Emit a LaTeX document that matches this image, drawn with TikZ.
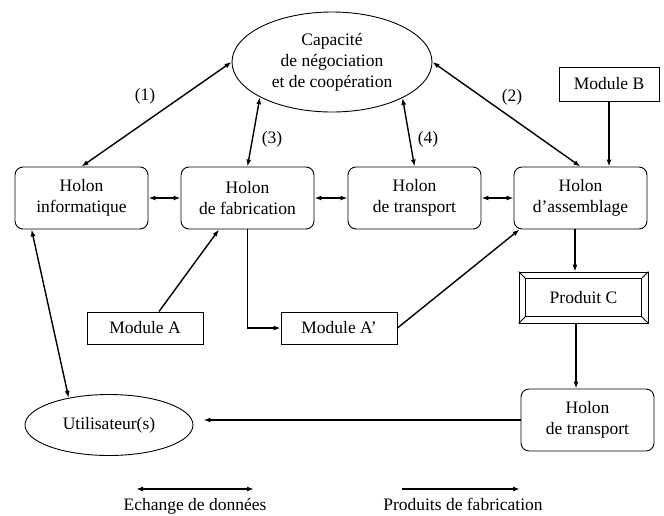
\documentclass[tikz,border=0pt]{standalone}
\usepackage{fontspec}
\setmainfont{Liberation Serif}
\usetikzlibrary{shapes.geometric,arrows.meta}

\tikzset{
  holon/.style={draw, rounded corners=8pt, minimum width=133pt, minimum height=62pt,
                inner sep=0pt, align=center, line width=0.9pt},
  module/.style={draw, minimum width=116pt, minimum height=32pt, inner sep=0pt, line width=0.9pt},
  oval/.style={draw, ellipse, inner sep=0pt, align=center, line width=0.9pt},
  flow/.style={-{Latex[length=7pt,width=5pt]}, line width=1.4pt},
  exch/.style={{Latex[length=7pt,width=5pt]}-{Latex[length=7pt,width=5pt]}, line width=1.4pt},
  lbl/.style={inner sep=0pt}
}

\begin{document}
\begin{tikzpicture}[x=1pt, y=-1pt, font=\fontsize{17.5}{21}\selectfont]
  \useasboundingbox (0,0) rectangle (664,515);

  % negotiation layer
  \node[oval, minimum width=200pt, minimum height=100pt] (capa) at (332,62)
    {Capacité\\de négociation\\et de coopération};

  % holons
  \node[holon] (hinfo)  at (81.5,198)  {Holon\\informatique};
  \node[holon] (hfab)   at (247.5,198) {Holon\\de fabrication};
  \node[holon] (htrans) at (414.5,198) {Holon\\de transport};
  \node[holon] (hass)   at (580.5,198) {Holon\\d’assemblage};
  \node[holon] (hbot)   at (587.5,420) {Holon\\de transport};

  % modules and products
  \node[draw, minimum width=100pt, minimum height=34pt, inner sep=0pt, line width=0.9pt]
    (modB) at (609,84) {Module B};
  \node[module] (modA)  at (145,328) {Module A};
  \node[module] (modAp) at (339,328) {Module A’};

  \node[draw, line width=0.8pt, minimum width=129pt, minimum height=51pt, inner sep=0pt]
    (pc) at (583.5,297.5) {Produit C};
  \draw[line width=0.8pt] ([shift={(7,7)}]pc.north west) rectangle ([shift={(-7,-7)}]pc.south east);
  \draw[line width=0.8pt] (pc.north west) -- ([shift={(7,7)}]pc.north west);
  \draw[line width=0.8pt] (pc.north east) -- ([shift={(-7,7)}]pc.north east);
  \draw[line width=0.8pt] (pc.south west) -- ([shift={(7,-7)}]pc.south west);
  \draw[line width=0.8pt] (pc.south east) -- ([shift={(-7,-7)}]pc.south east);

  \node[oval, minimum width=168pt, minimum height=61pt] (user) at (109,425) {Utilisateur(s)};

  % data exchanges
  \draw[exch] (hinfo.north) -- (capa.west);
  \draw[exch] (capa.east) -- (hass.north);
  \draw[exch] (capa.206) -- (hfab.north);
  \draw[exch] (capa.333) -- (htrans.north);
  \draw[exch] (hinfo.east) -- (hfab.west);
  \draw[exch] (hfab.east) -- (htrans.west);
  \draw[exch] (htrans.east) -- (hass.west);
  \draw[exch] ([xshift=17pt]hinfo.south west) -- (user.146);

  \node[lbl] (l1) at (145,96)  {(1)};
  \node[lbl] (l2) at (512,97)  {(2)};
  \node[lbl] (l3) at (272,139) {(3)};
  \node[lbl] (l4) at (428,139) {(4)};

  % product flows
  \draw[flow] (modB.south) -- (modB.south |- hass.north);
  \draw[flow] ([xshift=14pt]modA.north) -- ([xshift=-28.5pt]hfab.south);
  \draw[flow] (hfab.south) |- (modAp.west);
  \draw[flow] (modAp.east) -- ([xshift=6pt]hass.south west);
  \draw[flow] ([xshift=-5.5pt]hass.south) -- ([xshift=-5.5pt]hass.south |- pc.north);
  \draw[flow] ([xshift=-7.5pt]pc.south) -- ([xshift=-7.5pt]pc.south |- hbot.north);
  \draw[flow, shorten >=10pt] (hbot.west) -- (hbot.west -| user.east);

  % legend
  \coordinate (e1) at (136,489);
  \coordinate (e2) at (254,489);
  \coordinate (p1) at (402,489);
  \coordinate (p2) at (520,489);
  \draw[exch] (e1) -- (e2);
  \draw[flow] (p1) -- (p2);
  \node[anchor=base, inner sep=0pt] (te) at (195,510) {Echange de données};
  \node[anchor=base, inner sep=0pt] (tp) at (463,510) {Produits de fabrication};
\end{tikzpicture}
\end{document}
